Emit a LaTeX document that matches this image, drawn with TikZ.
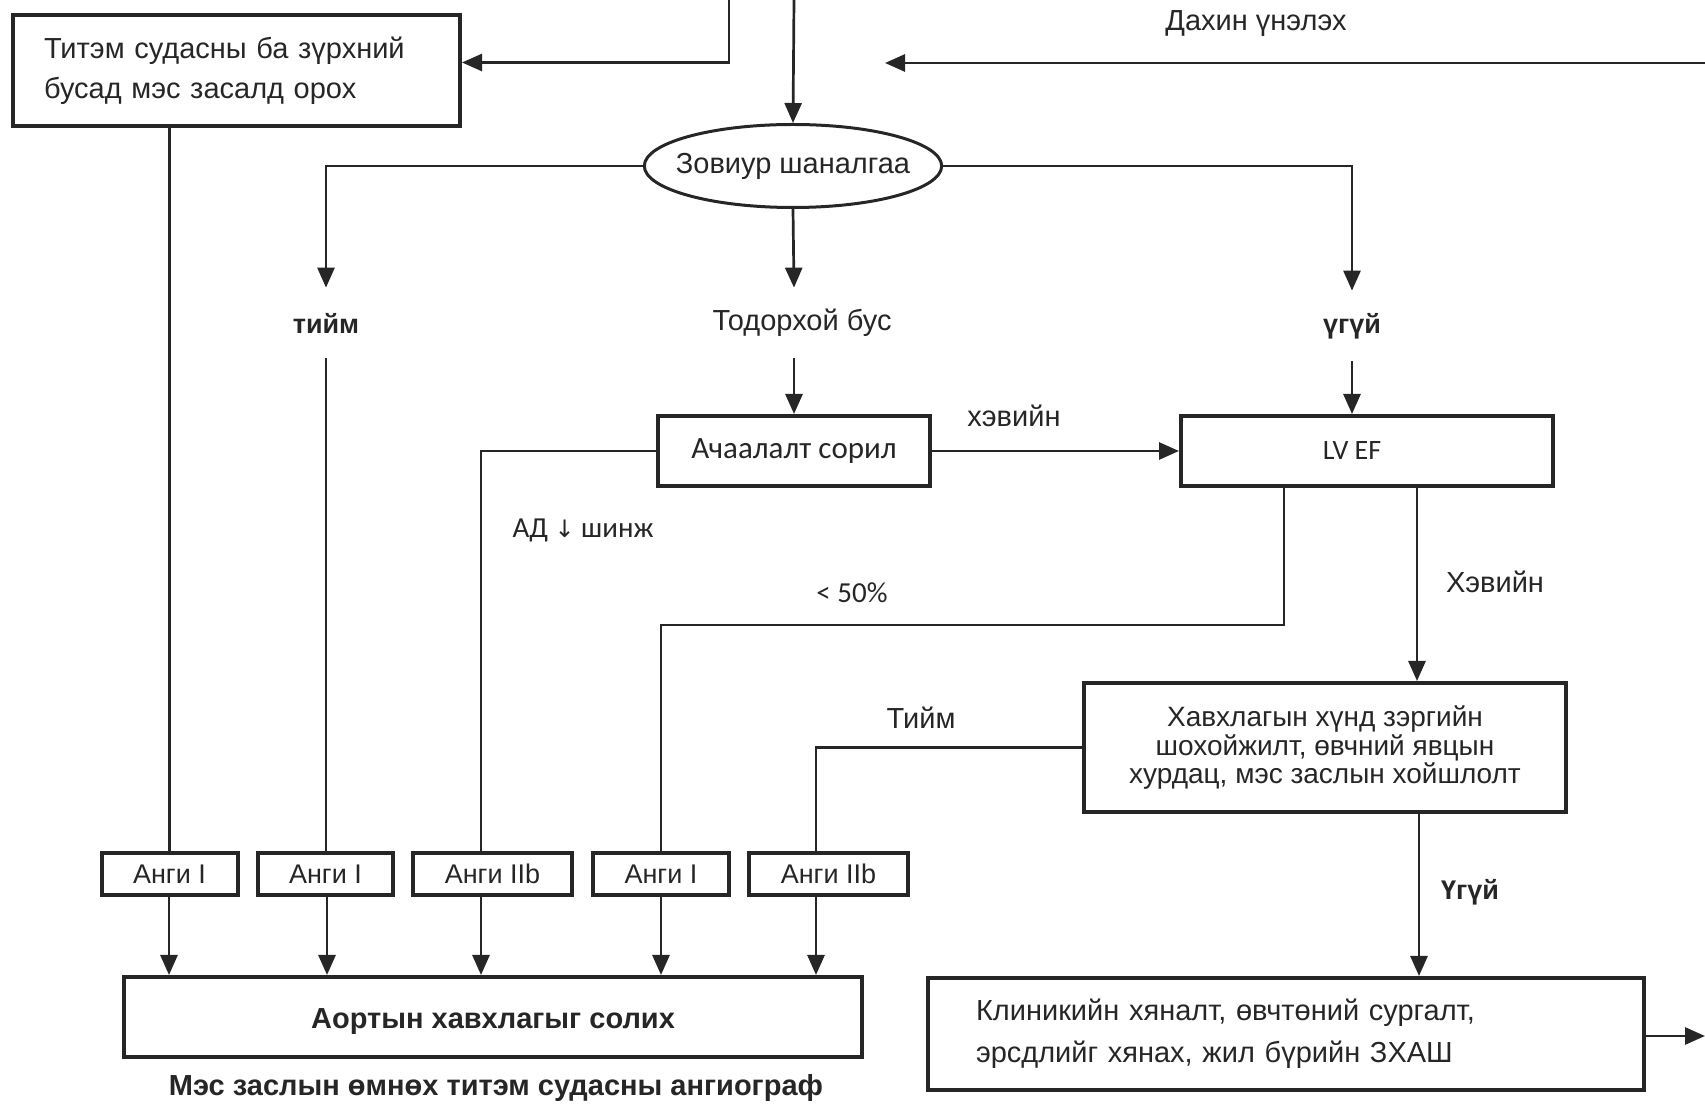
\documentclass[tikz,border=0pt]{standalone}
\usepackage{fontspec}
\setmainfont{Liberation Sans}
\newfontfamily\carl{Carlito}
\newfontfamily\symf{DejaVu Sans}
\usetikzlibrary{arrows.meta,shapes.geometric,calc}
\begin{document}
\begin{tikzpicture}[x=0.5pt,y=-0.5pt,
  line width=1.35pt, draw=black!85, text=black!85,
  arr/.style={-{Triangle[length=10pt,width=8.5pt]}},
  box/.style={draw,line width=2pt,rectangle,inner sep=0pt},
  gbox/.style={box,minimum height=21pt,font=\fontsize{13.5}{15}\selectfont},
  lbl/.style={inner sep=0pt,font=\fontsize{14.5}{17}\selectfont},
  mid/.style={lbl,minimum height=34pt},
]
\useasboundingbox (0,0) rectangle (1705,1106);

% free ends
\coordinate (topL) at (729,0);
\coordinate (topC) at (794,0);
\coordinate (topR) at (1705,63);
\coordinate (retEnd) at (885,63);

% main nodes
\node[box,minimum width=223.5pt,minimum height=55.5pt,text width=192.5pt,align=left,
      font=\fontsize{14.5}{20}\selectfont] (T) at (236.5,70.5)
      {Титэм судасны ба зүрхний\\бусад мэс засалд орох};
\node[draw,ellipse,line width=1.5pt,minimum width=147.5pt,minimum height=41.5pt,
      inner xsep=-6pt,inner ysep=0pt,
      font=\fontsize{14.5}{17}\selectfont] (E) at (793,166) {Зовиур шаналгаа};
\node[mid,font=\bfseries\fontsize{13.5}{16}\selectfont] (tiim) at (326,323) {тийм};
\node[mid] (tod) at (794,323) {\hspace*{8pt}Тодорхой бус};
\node[mid,font=\bfseries\fontsize{13.5}{16}\selectfont] (ugui) at (1352,326) {үгүй};
\node[box,minimum width=136pt,minimum height=35pt,font=\carl\fontsize{15.5}{18}\selectfont] (A) at (794,451) {Ачаалалт сорил};
\node[box,minimum width=186pt,minimum height=35pt,font=\carl\fontsize{14}{16}\selectfont] (L) at (1367,451) {LV EF\hspace*{15pt}};
\node[box,minimum width=241pt,minimum height=64.5pt,align=center,
      font=\fontsize{14}{13}\selectfont] (H) at (1325,747.5)
      {Хавхлагын хүнд зэргийн\\шохойжилт, өвчний явцын\\хурдац, мэс заслын хойшлолт};
\node[box,minimum width=358pt,minimum height=56pt,text width=310pt,align=left,
      font=\fontsize{14.5}{21}\selectfont] (K) at (1286,1034)
      {Клиникийн хяналт, өвчтөний сургалт,\\эрсдлийг хянах, жил бүрийн ЗХАШ};
\node[box,minimum width=369pt,minimum height=40pt,font=\bfseries\fontsize{14.5}{17}\selectfont] (R) at (493,1017)
      {\raisebox{-2.5pt}[\height][\depth]{Аортын хавхлагыг солих}};

% class boxes
\node[gbox,minimum width=68pt] (g1) at (169.5,874) {Анги I};
\node[gbox,minimum width=67.5pt] (g2) at (325.5,874) {Анги I};
\node[gbox,minimum width=79.5pt] (g3) at (492.5,874) {Анги IIb};
\node[gbox,minimum width=68pt] (g4) at (661,874) {Анги I};
\node[gbox,minimum width=79.5pt] (g5) at (828.5,874) {Анги IIb};

% labels
\node[lbl] (dahin) at (1256,24) {Дахин үнэлэх};
\node[lbl] (hev1) at (1014,416) {хэвийн};
\node[lbl,font=\carl\fontsize{14.5}{17}\selectfont] (ad) at (583,530) {АД {\symf\fontsize{12}{14}\selectfont↓} шинж};
\node[lbl,font=\carl\fontsize{14.5}{17}\selectfont] (lt) at (852,593) {< 50\%};
\node[lbl] (hev2) at (1495,582) {Хэвийн};
\node[lbl] (tiim2) at (921,718) {Тийм};
\node[lbl,font=\bfseries\fontsize{13.5}{16}\selectfont] (ugui2) at (1470,892) {Үгүй};
\node[lbl,font=\bfseries\fontsize{14.5}{17}\selectfont] (cap) at (496,1088) {Мэс заслын өмнөх титэм судасны ангиограф};

% helper coordinates
\coordinate (Lc) at ($(L.south west)+(105,0)$);
\coordinate (Lh) at ($(L.south west)+(238,0)$);
\coordinate (Hk) at ($(H.south)+(94,0)$);
\coordinate (Tg) at ($(T.south)+(-67,0)$);
\coordinate (out) at (1705,1036);
\coordinate (c1) at ($(g1.south)+(-0.5,0)$);
\coordinate (c2) at ($(g2.south)+(1.5,0)$);
\coordinate (c3) at ($(g3.south)+(-11.5,0)$);
\coordinate (c4) at (g4.south);
\coordinate (c5) at ($(g5.south)+(-12.5,0)$);
\coordinate (n3) at ($(g3.north)+(-11.5,0)$);
\coordinate (n5) at ($(g5.north)+(-12.5,0)$);

% top connectors
\draw[arr] (topL) |- ($(T.east)+(0,-8)$);
\draw[arr] (topC) -- (E.north);
\draw[arr] (topR) -- (retEnd);

% from ellipse
\draw[arr] (E.west) -| (tiim.north);
\draw[arr] (E.south) -- (tod.north);
\draw[arr] (E.east) -| (ugui.north);

% to class boxes
\draw (Tg) -- (Tg |- g1.north);
\draw (tiim.south) -- (tiim.south |- g2.north);
\draw (A.west) -| (n3);
\draw (Lc) -- ++(0,137) -| (g4.north);
\draw (H.west) -| (n5);

% middle connectors
\draw[arr] (tod.south) -- (A.north);
\draw[arr] (ugui.south) -- (ugui.south |- L.north);
\draw[arr] (A.east) -- (L.west);
\draw[arr] (Lh) -- (Lh |- H.north);
\draw[arr] (Hk) -- (Hk |- K.north);
\draw[arr] (K.east |- out) -- (out);

% class boxes to replacement
\draw[arr] (c1) -- (c1 |- R.north);
\draw[arr] (c2) -- (c2 |- R.north);
\draw[arr] (c3) -- (c3 |- R.north);
\draw[arr] (c4) -- (c4 |- R.north);
\draw[arr] (c5) -- (c5 |- R.north);
\end{tikzpicture}
\end{document}
